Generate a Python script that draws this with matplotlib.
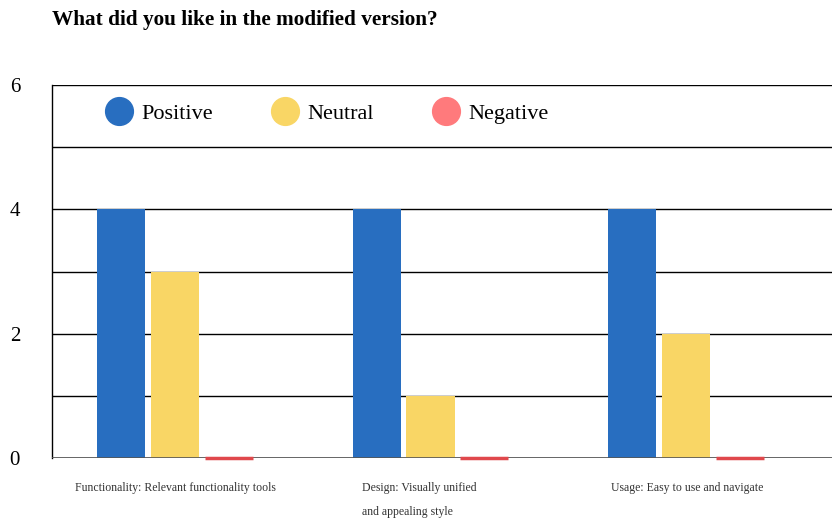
import matplotlib.pyplot as plt
import numpy as np
from matplotlib.lines import Line2D
from matplotlib.transforms import blended_transform_factory

# Survey answers per category
categories = ['Functionality: Relevant functionality tools',
              'Design: Visually unified\nand appealing style',
              'Usage: Easy to use and navigate']
positive = [4, 4, 4]
neutral = [3, 1, 2]
negative = [0, 0, 0]

series = ['Positive', 'Neutral', 'Negative']
colors = ['#286EC0', '#F9D665', '#FF7A7C']

plt.rcParams['font.family'] = ['Liberation Serif', 'DejaVu Serif']

fig = plt.figure(figsize=(8.32, 5.21), dpi=100)
ax = fig.add_axes([52 / 832, 1 - 458 / 521, 780 / 832, (458 - 85) / 521])

x = np.arange(len(categories))
w = 0.188
step = 0.211
ax.bar(x - step, positive, width=w, color=colors[0], linewidth=0, zorder=3)
ax.bar(x, neutral, width=w, color=colors[1], linewidth=0, zorder=3)
ax.bar(x + step, negative, width=w, color=colors[2], linewidth=0, zorder=3)
# zero-height bars still show as a thin red line
ax.hlines(negative, x + step - w / 2, x + step + w / 2, color='#E0484C',
          linewidth=2.5, zorder=5, clip_on=False)

ax.set_ylim(0, 6)
ax.set_xlim(-0.481, 2.571)
ax.set_yticks([0, 2, 4, 6])
ax.set_yticks(range(7), minor=True)
ax.grid(axis='y', which='both', color='black', linewidth=1, zorder=0)
ax.tick_params(axis='y', which='both', length=0, labelsize=15, pad=23)
ax.set_xticks([])
for s in ['top', 'right', 'bottom']:
    ax.spines[s].set_visible(False)
ax.spines['left'].set_linewidth(1)
ax.axhline(0, color='#555555', linewidth=1.2, zorder=4)

# category names under each group
trans = blended_transform_factory(ax.transData, fig.transFigure)
label_x = [-0.392, 0.732, 1.706]
for lx, name in zip(label_x, categories):
    ax.text(lx, 1 - 482 / 521, name, transform=trans, ha='left', va='top',
            fontsize=8.5, color='#333333', linespacing=2.35)

handles = [Line2D([], [], marker='o', linestyle='none', markersize=20,
                  markerfacecolor=c, markeredgecolor=c) for c in colors]
ax.legend(handles, series, loc='center left', bbox_to_anchor=(0.063, 0.923),
          ncol=3, frameon=False, fontsize=16, handlelength=1.6,
          handletextpad=0.2, columnspacing=2.45, borderaxespad=0, borderpad=0)

fig.text(52 / 832, 1 - 20 / 521, 'What did you like in the modified version?',
         fontsize=15.3, fontweight='bold', ha='left', va='center')

fig.savefig('out.png', dpi=100)
